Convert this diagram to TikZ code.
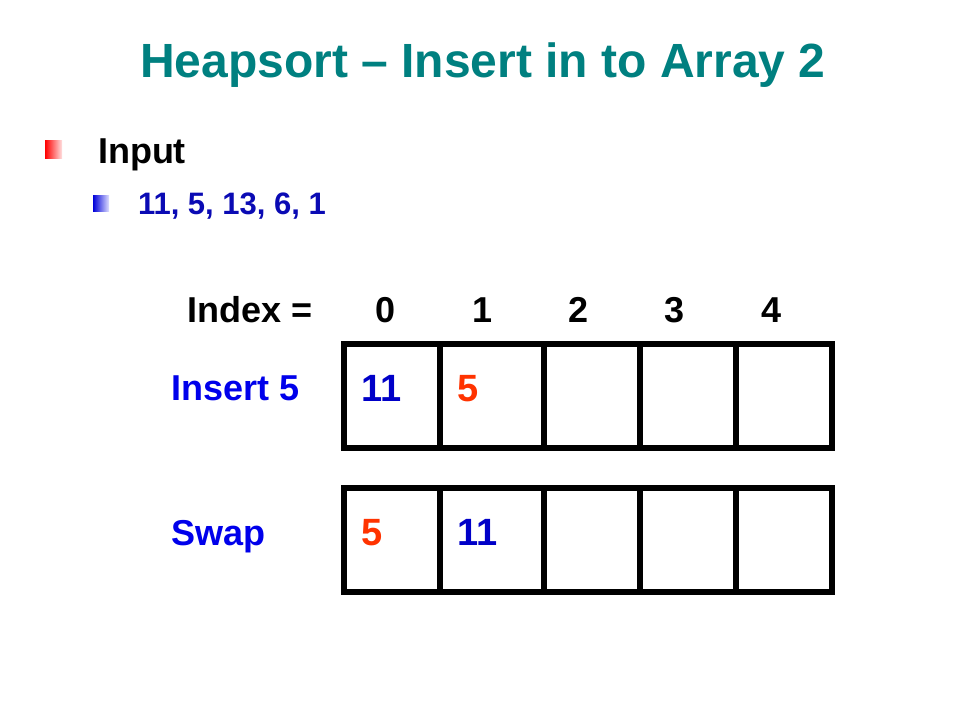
\documentclass[tikz,border=0pt]{standalone}
\usepackage{fontspec}
\setmainfont{Liberation Sans}
\definecolor{titleteal}{RGB}{0,128,128}
\definecolor{labelblue}{RGB}{0,0,235}
\definecolor{numblue}{RGB}{0,0,200}
\definecolor{inputblue}{RGB}{10,10,180}
\definecolor{numred}{RGB}{255,51,0}
\newcommand\myfs[1]{\fontsize{#1}{#1}\selectfont\bfseries}
\tikzset{
  txt/.style={anchor=base west, inner sep=0pt, outer sep=0pt},
  cellbox/.style={draw=black, line width=5.5pt, inner sep=0pt, minimum height=104pt},
  cellnum/.style={txt, font=\myfs{38}},
}
\begin{document}
\begin{tikzpicture}[x=1pt,y=-1pt]
\useasboundingbox[fill=white] (0,0) rectangle (960,720);
% title
\node[anchor=base, inner sep=0pt, text=titleteal, font=\myfs{48}] (title) at (483,77) {Heapsort – Insert in to Array 2};
% bullets
\shade[left color=red, right color=red!12] (45,140) rectangle (62,158);
\node[txt, font=\myfs{36}] (input) at (98,163) {Input};
\shade[left color=blue!85!black, right color=blue!12] (93,195) rectangle (109,211);
\node[txt, font=\myfs{31}, text=inputblue] (seq) at (138,214) {11, 5, 13, 6, 1};
% index row
\node[txt, font=\myfs{36}] (idx) at (187,322) {Index =};
\node[anchor=base, inner sep=0pt, font=\myfs{36}] (i0) at (386,322) {0};
\node[anchor=base, inner sep=0pt, font=\myfs{36}] (i1) at (483,322) {1};
\node[anchor=base, inner sep=0pt, font=\myfs{36}] (i2) at (579,322) {2};
\node[anchor=base, inner sep=0pt, font=\myfs{36}] (i3) at (675,322) {3};
\node[anchor=base, inner sep=0pt, font=\myfs{36}] (i4) at (771,322) {4};
% row 1
\node[cellbox, minimum width=96pt]  (a0) at (392,396) {};
\node[cellbox, minimum width=104pt] (a1) at (492,396) {};
\node[cellbox, minimum width=96pt]  (a2) at (592,396) {};
\node[cellbox, minimum width=96pt]  (a3) at (688,396) {};
\node[cellbox, minimum width=96pt]  (a4) at (784,396) {};
\node[txt, font=\myfs{36}, text=labelblue] (lab1) at (171,400) {Insert 5};
\node[cellnum, text=numblue] (a0v) at (361,401) {11};
\node[cellnum, text=numred] (a1v) at (457,401) {5};
% row 2
\node[cellbox, minimum width=96pt]  (b0) at (392,540) {};
\node[cellbox, minimum width=104pt] (b1) at (492,540) {};
\node[cellbox, minimum width=96pt]  (b2) at (592,540) {};
\node[cellbox, minimum width=96pt]  (b3) at (688,540) {};
\node[cellbox, minimum width=96pt]  (b4) at (784,540) {};
\node[txt, font=\myfs{36}, text=labelblue] (lab2) at (171,545) {Swap};
\node[cellnum, text=numred] (b0v) at (361,545) {5};
\node[cellnum, text=numblue] (b1v) at (457,545) {11};
\end{tikzpicture}
\end{document}
